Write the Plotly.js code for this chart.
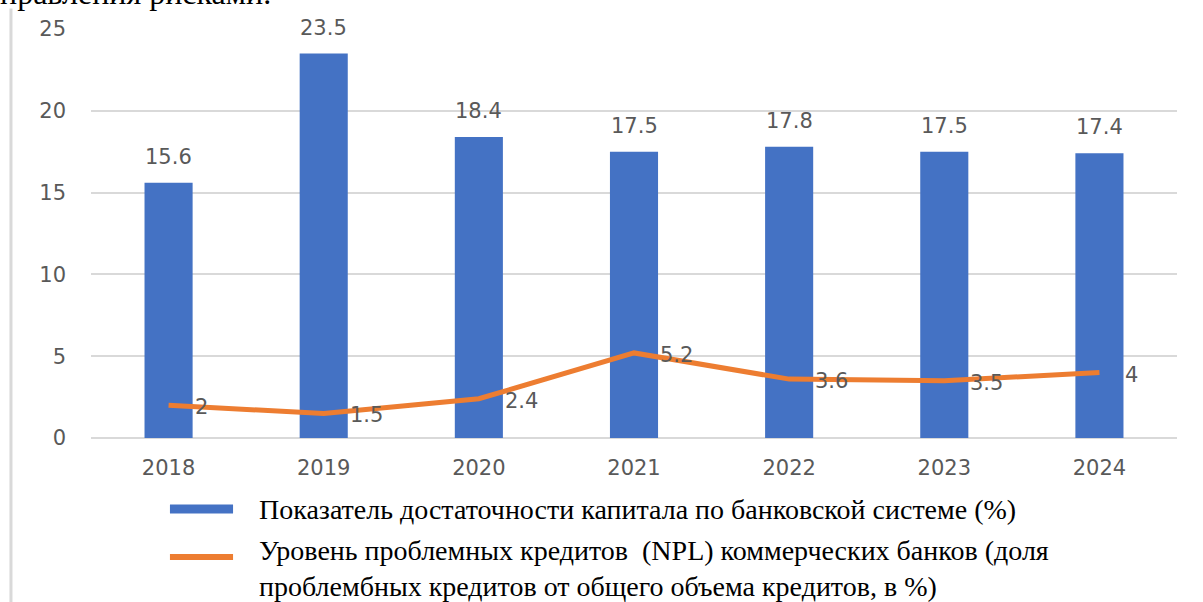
<!DOCTYPE html>
<html>
<head>
<meta charset="utf-8">
<script src="https://cdn.plot.ly/plotly-3.0.1.min.js"></script>
<style>html,body{margin:0;padding:0;background:#fff;}#chart{width:1203px;height:602px;}</style>
</head>
<body>
<div id="chart"></div>
<script>
const years = ['2018', '2019', '2020', '2021', '2022', '2023', '2024'];
const capitalAdequacy = [15.6, 23.5, 18.4, 17.5, 17.8, 17.5, 17.4];
const nplLevel = [2, 1.5, 2.4, 5.2, 3.6, 3.5, 4];
const seriesNames = [
  'Показатель достаточности капитала по банковской системе (%)',
  'Уровень проблемных кредитов  (NPL) коммерческих банков (доля<br>проблембных кредитов от общего объема кредитов, в %)'
];
const headerText = 'управления рисками.';
const yTicks = [0, 5, 10, 15, 20, 25];

const labelFont = {family: 'DejaVu Sans, Verdana, sans-serif', size: 21, color: '#595959'};
const serif = {family: 'Liberation Serif, Times New Roman, serif', size: 28, color: '#000'};

const traces = [
  {
    type: 'bar', x: years, y: capitalAdequacy, name: seriesNames[0],
    marker: {color: '#4472C4'}, hoverinfo: 'x+y', showlegend: false
  },
  {
    type: 'scatter', mode: 'lines', x: years, y: nplLevel, name: seriesNames[1],
    line: {color: '#ED7D31', width: 5}, showlegend: false
  }
];

const annotations = [];
years.forEach((yr, i) => {
  annotations.push({
    x: i, y: capitalAdequacy[i], xref: 'x', yref: 'y', text: String(capitalAdequacy[i]),
    showarrow: false, yanchor: 'bottom', yshift: 12, font: labelFont
  });
  annotations.push({
    x: i, y: nplLevel[i], xref: 'x', yref: 'y', text: String(nplLevel[i]),
    showarrow: false, xanchor: 'left', xshift: 24, yshift: -2, font: labelFont
  });
});
// legend texts
annotations.push({xref: 'paper', yref: 'paper', x: 0.1529, y: -0.1736, xanchor: 'left', yanchor: 'middle',
  text: seriesNames[0], showarrow: false, font: serif, align: 'left'});
annotations.push({xref: 'paper', yref: 'paper', x: 0.1529, y: -0.318, xanchor: 'left', yanchor: 'middle',
  text: seriesNames[1], showarrow: false, font: serif, align: 'left'});
// cut-off header line
annotations.push({xref: 'paper', yref: 'paper', x: -0.1, y: 1.04, xanchor: 'left', yanchor: 'bottom',
  text: headerText, showarrow: false, font: {family: 'Liberation Serif, Times New Roman, serif', size: 32, color: '#000'}});

const shapes = [
  {type: 'rect', xref: 'paper', yref: 'paper', x0: 0.0727, x1: 0.1308, y0: -0.1625, y1: -0.1845,
   fillcolor: '#4472C4', line: {width: 0}},
  {type: 'line', xref: 'paper', yref: 'paper', x0: 0.0727, x1: 0.1308, y0: -0.291, y1: -0.291,
   line: {color: '#ED7D31', width: 6}},
  {type: 'line', xref: 'paper', yref: 'paper', x0: -0.0737, x1: -0.0737, y0: 1.05, y1: -0.45,
   line: {color: '#d9d9d9', width: 3}}
];

const layout = {
  width: 1203, height: 602,
  margin: {l: 91, r: 26, t: 29, b: 164, pad: 0},
  paper_bgcolor: '#fff', plot_bgcolor: '#fff',
  bargap: 0.69,
  showlegend: false,
  xaxis: {
    type: 'category', range: [-0.5, 6.5], autorange: false, tickfont: labelFont, showgrid: false, zeroline: false,
    showline: false, ticks: '', ticklabelstandoff: 15
  },
  yaxis: {
    range: [0, 25], autorange: false, tickvals: yTicks, tickfont: labelFont, showgrid: true,
    gridcolor: '#d9d9d9', gridwidth: 2, zeroline: true, zerolinecolor: '#d9d9d9', zerolinewidth: 2,
    showline: false, ticks: '', ticklabelstandoff: 24
  },
  annotations: annotations,
  shapes: shapes
};

Plotly.newPlot('chart', traces, layout, {displayModeBar: false, staticPlot: true});
</script>
</body>
</html>
